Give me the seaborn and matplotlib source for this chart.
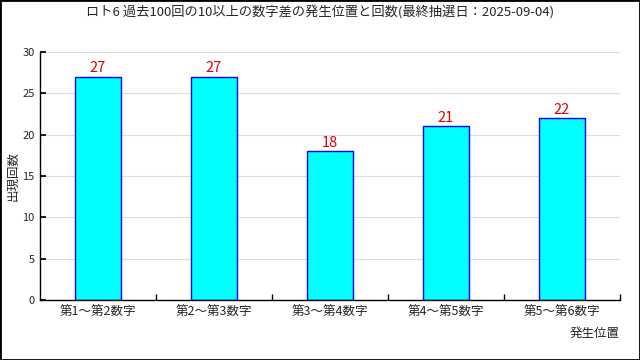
import matplotlib
matplotlib.use("Agg")
import matplotlib.pyplot as plt
import seaborn as sns
import pandas as pd
from matplotlib.patches import Rectangle

categories = ["第1～第2数字", "第2～第3数字", "第3～第4数字", "第4～第5数字", "第5～第6数字"]
counts = [27, 27, 18, 21, 22]
yticks = [0, 5, 10, 15, 20, 25, 30]
title = "ロト6 過去100回の10以上の数字差の発生位置と回数(最終抽選日：2025-09-04)"

sns.set_theme(style="white")
plt.rcParams['font.family'] = ['Noto Sans CJK JP', 'DejaVu Sans']

df = pd.DataFrame({"pos": categories, "count": counts})

fig = plt.figure(figsize=(6.4, 3.6), dpi=100)
ax = fig.add_axes([40/640, 1-300/360, 580/640, 248/360])

sns.barplot(data=df, x="pos", y="count", ax=ax, color="#00FFFF", width=0.4,
            edgecolor="#0000FF", linewidth=1, saturation=1)

ax.set_ylim(0, 30)
ax.set_xlim(-0.5, len(categories) - 0.5)
ax.set_yticks(yticks)
ax.set_yticklabels([str(v) for v in yticks], fontsize=8)
ax.yaxis.grid(True, color="#dddddd", linewidth=0.8)
ax.set_axisbelow(True)
ax.tick_params(axis="y", direction="in", length=4, color="black", left=True, pad=4)
ax.set_xticks(range(len(categories)))
ax.set_xticklabels(categories, fontsize=9)
ax.tick_params(axis="x", which="major", length=0, pad=4)
ax.set_xticks([i + 0.5 for i in range(len(categories))], minor=True)
ax.tick_params(axis="x", which="minor", direction="in", length=4, color="black", bottom=True)

for s in ["top", "right"]:
    ax.spines[s].set_visible(False)
for s in ["left", "bottom"]:
    ax.spines[s].set_color("black")
    ax.spines[s].set_linewidth(1)

ax.set_xlabel("")
ax.set_ylabel("出現回数", fontsize=9)
ax.yaxis.set_label_coords((19 - 40) / 580, 0.5)
fig.text(620/640, 1-333/360, "発生位置", fontsize=9, ha="right", va="center")

for c in ax.containers:
    ax.bar_label(c, labels=[str(v) for v in counts], color="#e00000", fontsize=10.5, padding=1)

fig.text(320/640, 1-12/360, title, fontsize=9.5, ha="center", va="center")

fig.patches.append(Rectangle((0, 0), 1, 1, transform=fig.transFigure, fill=False,
                             edgecolor="black", linewidth=2))

fig.savefig("out.png", dpi=100)
